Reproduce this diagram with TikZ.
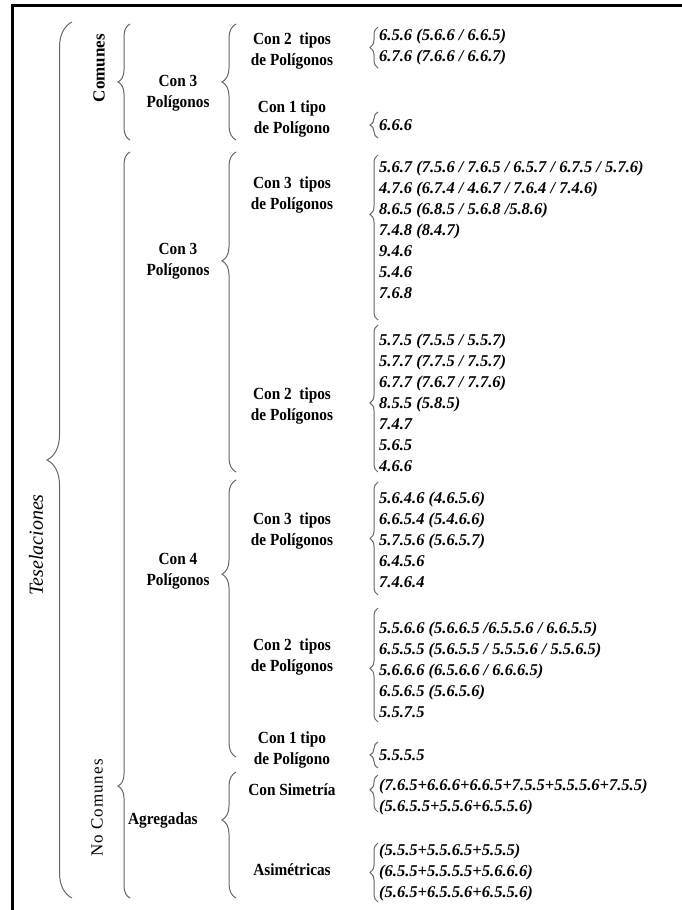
\documentclass[tikz,border=0pt]{standalone}
\usepackage{fontspec}
\setmainfont{Liberation Serif}
\newfontfamily\spacedfont[LetterSpace=6]{Liberation Serif}
\newfontfamily\condfont[FakeStretch=0.9]{Liberation Serif}
\usetikzlibrary{decorations.pathreplacing}
\tikzset{
  lbl/.style={font=\condfont\bfseries\fontsize{17}{21}\selectfont, align=center, inner sep=0pt},
  lst/.style={font=\bfseries\itshape\fontsize{16.5}{21}\selectfont, align=left, anchor=west, inner sep=0pt},
  brc/.style={decorate, decoration={brace, amplitude=#1}, draw=black!60, line width=1pt},
  brc/.default=12
}
\begin{document}
\begin{tikzpicture}[x=1pt,y=1pt]
\useasboundingbox (0,0) rectangle (682,-910);
% frame
\draw[line width=3pt] (682,-5) -- (12,-5) -- (12,-910);

% ---------- rotated titles
\node[rotate=90, font=\itshape\fontsize{20}{22}\selectfont, inner sep=0pt] (tes) at (36,-545) {Teselaciones};
\node[rotate=90, font=\bfseries\fontsize{17}{20}\selectfont, inner sep=0pt] (com) at (99,-68) {Comunes};
\node[rotate=90, font=\spacedfont\fontsize{17}{20}\selectfont, inner sep=0pt] (nocom) at (97,-808) {No Comunes};

% ---------- Teselaciones brace
\coordinate (tb) at (72,-898); \coordinate (tt) at (72,-22);
\draw[brc=25, decoration={aspect=0.5}] (tb) -- (tt);

% ---------- Comunes
\coordinate (cb) at (130,-140); \coordinate (ct) at (130,-24);
\draw[brc=12] (cb) -- (ct);
\node[lbl] (c3p) at (178,-93) {Con 3\\Polígonos};
\coordinate (c3b) at (236,-140); \coordinate (c3t) at (236,-24);
\draw[brc=14] (c3b) -- (c3t);
\node[lbl] (c2t) at (292,-51) {Con 2\ \ tipos\\de Polígonos};
\node[lbl] (c1t) at (292,-119) {Con 1 tipo\\de Polígono};
\coordinate (l1b) at (378,-68); \coordinate (l1t) at (378,-27);
\draw[brc=8] (l1b) -- (l1t);
\node[lst] (l1) at (379,-47) {6.5.6 (5.6.6 / 6.6.5)\\6.7.6 (7.6.6 / 6.6.7)};
\coordinate (l2b) at (378,-138); \coordinate (l2t) at (378,-112);
\draw[brc=8] (l2b) -- (l2t);
\node[lst] (l2) at (379,-125) {6.6.6};

% ---------- No Comunes
\coordinate (nb) at (130,-898); \coordinate (nt) at (130,-152);
\draw[brc=12, decoration={aspect=0.15}] (nb) -- (nt);

% Con 3 Poligonos
\node[lbl] (n3p) at (178,-261) {Con 3\\Polígonos};
\coordinate (n3b) at (236,-472); \coordinate (n3t) at (236,-152);
\draw[brc=14, decoration={aspect=0.66}] (n3b) -- (n3t);
\node[lbl] (n33t) at (292,-195) {Con 3\ \ tipos\\de Polígonos};
\node[lbl] (n32t) at (292,-406) {Con 2\ \ tipos\\de Polígonos};
\coordinate (m1b) at (378,-320); \coordinate (m1t) at (378,-155);
\draw[brc=8, decoration={aspect=0.64}] (m1b) -- (m1t);
\node[lst] (m1) at (379,-230) {5.6.7 (7.5.6 / 7.6.5 / 6.5.7 / 6.7.5 / 5.7.6)\\4.7.6 (6.7.4 / 4.6.7 / 7.6.4 / 7.4.6)\\8.6.5 (6.8.5 / 5.6.8 /5.8.6)\\7.4.8 (8.4.7)\\9.4.6\\5.4.6\\7.6.8};
\coordinate (m2b) at (378,-472); \coordinate (m2t) at (378,-325);
\draw[brc=8, decoration={aspect=0.47}] (m2b) -- (m2t);
\node[lst] (m2) at (379,-403) {5.7.5 (7.5.5 / 5.5.7)\\5.7.7 (7.7.5 / 7.5.7)\\6.7.7 (7.6.7 / 7.7.6)\\8.5.5 (5.8.5)\\7.4.7\\5.6.5\\4.6.6};

% Con 4 Poligonos
\node[lbl] (n4p) at (178,-571) {Con 4\\Polígonos};
\coordinate (n4b) at (236,-757); \coordinate (n4t) at (236,-480);
\draw[brc=14, decoration={aspect=0.66}] (n4b) -- (n4t);
\node[lbl] (n43t) at (292,-531) {Con 3\ \ tipos\\de Polígonos};
\node[lbl] (n42t) at (292,-657) {Con 2\ \ tipos\\de Polígonos};
\node[lbl] (n41t) at (292,-750) {Con 1 tipo\\de Polígono};
\coordinate (m3b) at (378,-595); \coordinate (m3t) at (378,-482);
\draw[brc=8] (m3b) -- (m3t);
\node[lst] (m3) at (379,-540) {5.6.4.6 (4.6.5.6)\\6.6.5.4 (5.4.6.6)\\5.7.5.6 (5.6.5.7)\\6.4.5.6\\7.4.6.4};
\coordinate (m4b) at (378,-722); \coordinate (m4t) at (378,-608);
\draw[brc=8, decoration={aspect=0.47}] (m4b) -- (m4t);
\node[lst] (m4) at (379,-670) {5.5.6.6 (5.6.6.5 /6.5.5.6 / 6.6.5.5)\\6.5.5.5 (5.6.5.5 / 5.5.5.6 / 5.5.6.5)\\5.6.6.6 (6.5.6.6 / 6.6.6.5)\\6.5.6.5 (5.6.5.6)\\5.5.7.5};
\coordinate (m5b) at (378,-768); \coordinate (m5t) at (378,-742);
\draw[brc=8] (m5b) -- (m5t);
\node[lst] (m5) at (379,-755) {5.5.5.5};

% Agregadas
\node[lbl, anchor=west] (agr) at (128,-820) {Agregadas};
\coordinate (agb) at (236,-898); \coordinate (agt) at (236,-772);
\draw[brc=14, decoration={aspect=0.62}] (agb) -- (agt);
\node[lbl] (sim) at (292,-790) {Con Simetría};
\node[lbl] (asi) at (292,-870) {Asimétricas};
\coordinate (m6b) at (378,-812); \coordinate (m6t) at (378,-775);
\draw[brc=8, decoration={aspect=0.6}] (m6b) -- (m6t);
\node[lst] (m6) at (379,-797) {(7.6.5+6.6.6+6.6.5+7.5.5+5.5.5.6+7.5.5)\\(5.6.5.5+5.5.6+6.5.5.6)};
\coordinate (m7b) at (378,-902); \coordinate (m7t) at (378,-843);
\draw[brc=8] (m7b) -- (m7t);
\node[lst] (m7) at (379,-873) {(5.5.5+5.5.6.5+5.5.5)\\(6.5.5+5.5.5.5+5.6.6.6)\\(5.6.5+6.5.5.6+6.5.5.6)};
\end{tikzpicture}
\end{document}
